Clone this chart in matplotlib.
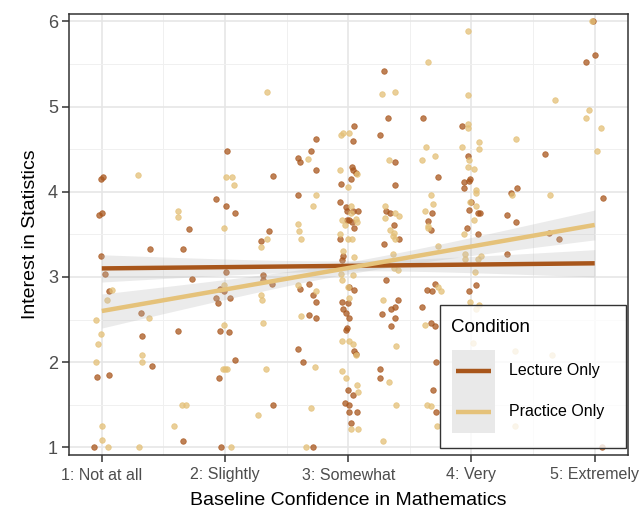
import numpy as np
import matplotlib
matplotlib.use("Agg")
import matplotlib.pyplot as plt
from matplotlib.lines import Line2D
from matplotlib.patches import Rectangle
from matplotlib.legend_handler import HandlerBase

plt.rcParams['font.family'] = ['Liberation Sans', 'DejaVu Sans']

# ---------------- data ----------------
tick_labels = ["1: Not at all", "2: Slightly", "3: Somewhat", "4: Very", "5: Extremely"]
conditions = ["Lecture Only", "Practice Only"]

lecture_x = [0.99, 1.01, 0.98, 1.00, 0.99, 1.03, 1.06, 1.32, 1.33, 1.39, 0.96, 1.06, 1.41, 0.94,
             2.02, 2.39, 1.93, 2.01, 2.08, 1.71, 1.66, 2.36, 2.29, 1.73, 2.01, 2.31, 2.31, 2.38,
             1.96, 1.99, 1.93, 1.94, 2.04, 1.62, 1.96, 2.03, 2.08, 1.95, 2.39, 1.66, 1.97,
             3.29, 3.32, 3.26, 3.05, 3.04, 2.74, 2.70, 2.59, 2.61, 2.74, 3.03, 3.04, 3.06, 2.94,
             3.02, 3.38, 3.38, 2.59, 2.93, 2.98, 2.99, 3.04, 3.08, 3.01, 2.99, 3.03, 3.05, 3.31,
             3.34, 3.37, 3.41, 3.29, 2.93, 2.96, 2.95, 3.61, 3.73, 3.68, 3.65, 3.67, 3.31, 2.68,
             2.61, 2.71, 2.74, 3.01, 3.05, 2.95, 3.00, 2.96, 2.98, 2.68, 2.74, 3.01, 2.98, 2.99,
             3.05, 3.06, 3.40, 3.38, 3.35, 3.27, 3.38, 3.35, 3.60, 3.64, 3.68, 3.70, 3.67, 3.70,
             2.59, 2.63, 3.26, 3.26, 3.00, 3.04, 2.97, 3.01, 3.01, 3.07, 3.02, 3.71, 3.69, 3.71,
             2.71,
             4.99, 4.93, 5.00, 3.92, 3.97, 3.98, 3.99, 3.94, 3.94, 4.60, 4.32, 4.37, 4.00, 3.98,
             4.05, 4.07, 4.29, 4.36, 5.07, 3.96, 4.05, 4.63, 4.71, 4.29, 4.04, 3.98, 5.06]
lecture_y = [4.15, 4.17, 3.73, 3.75, 3.25, 3.04, 2.83, 2.58, 2.31, 3.33, 1.83, 1.85, 1.96, 1.00,
             4.48, 4.19, 3.91, 3.83, 3.75, 3.56, 3.33, 3.54, 3.42, 2.98, 3.06, 3.02, 2.96, 2.92,
             2.86, 2.83, 2.75, 2.69, 2.75, 2.37, 2.37, 2.35, 2.02, 1.81, 1.50, 1.08, 1.00,
             5.42, 4.87, 4.67, 4.77, 4.60, 4.62, 4.48, 4.40, 4.35, 4.25, 4.29, 4.25, 4.22, 4.09,
             4.15, 4.35, 4.08, 3.96, 3.88, 3.82, 3.77, 3.77, 3.77, 3.67, 3.67, 3.64, 3.57, 3.77,
             3.75, 3.61, 3.44, 3.39, 3.44, 3.25, 3.20, 4.87, 4.17, 3.75, 3.66, 3.55, 2.96, 2.92,
             2.86, 2.79, 2.71, 2.88, 2.85, 2.71, 2.69, 2.62, 2.58, 2.55, 2.52, 2.52, 2.38, 2.40,
             2.13, 2.10, 2.73, 2.65, 2.62, 2.56, 2.52, 2.42, 2.65, 2.85, 2.83, 2.92, 2.46, 2.42,
             2.15, 2.00, 1.92, 1.81, 1.67, 1.61, 1.52, 1.50, 1.42, 1.42, 1.29, 2.00, 1.67, 1.42,
             1.00,
             6.00, 5.52, 5.60, 4.77, 4.42, 4.13, 4.15, 4.12, 4.04, 4.44, 3.99, 4.04, 3.88, 3.79,
             3.75, 3.75, 3.73, 3.65, 3.93, 3.58, 3.50, 3.52, 3.44, 3.27, 2.90, 2.83, 1.00]

practice_x = [1.29, 1.04, 1.08, 0.95, 0.99, 0.97, 0.95, 1.38, 1.33, 1.33, 1.00, 1.00, 1.05, 1.30,
              2.34, 2.01, 2.06, 2.07, 1.62, 1.62, 1.99, 2.34, 2.29, 1.99, 2.29, 2.30, 2.31, 1.99,
              1.98, 2.00, 2.02, 2.33, 1.65, 1.68, 2.27, 1.59, 2.05,
              3.65, 3.27, 3.38, 2.94, 2.96, 3.01, 3.63, 3.70, 3.60, 3.33, 2.67, 2.93, 3.00, 3.07,
              2.74, 2.71, 3.02, 3.02, 3.06, 3.07, 2.95, 2.97, 3.30, 3.30, 3.38, 3.41, 3.34, 3.36,
              3.38, 3.37, 3.67, 3.69, 3.62, 3.65, 3.65, 2.59, 2.60, 2.62, 2.93, 3.00, 3.03, 2.96,
              3.05, 3.36, 3.73, 3.37, 3.40, 3.04, 2.94, 2.95, 2.59, 2.74, 3.00, 3.01, 3.28, 3.75,
              3.73, 2.62, 3.62, 2.95, 3.01, 3.04, 3.06, 3.39, 2.73, 2.95, 2.98, 3.07, 3.08, 3.33,
              3.39, 2.70, 3.64, 3.67, 3.02, 3.08, 3.28, 2.66, 3.72,
              4.98, 3.97, 3.97, 4.68, 4.95, 4.93, 5.05, 3.97, 3.97, 4.36, 4.06, 4.06, 3.92, 5.02,
              3.98, 3.97, 4.02, 4.04, 4.04, 4.33, 4.64, 3.99, 4.04, 4.02, 3.94, 4.08, 4.05, 3.95,
              3.95, 4.03, 3.99, 4.04, 4.06, 4.01, 4.35, 4.65, 4.35]
practice_y = [4.20, 2.73, 2.85, 2.50, 2.33, 2.21, 2.00, 2.52, 2.08, 2.00, 1.25, 1.09, 1.00, 1.00,
              5.17, 4.17, 4.17, 4.08, 3.77, 3.70, 3.58, 3.44, 3.35, 2.90, 2.79, 2.73, 2.46, 2.44,
              1.92, 1.92, 1.92, 1.92, 1.50, 1.50, 1.38, 1.25, 1.00,
              5.52, 5.15, 5.17, 4.67, 4.69, 4.69, 4.52, 4.42, 4.37, 4.37, 4.39, 4.25, 4.06, 4.21,
              3.96, 3.83, 3.83, 3.75, 3.68, 3.65, 3.67, 3.61, 3.83, 3.69, 3.75, 3.72, 3.55, 3.48,
              3.44, 3.52, 3.96, 3.86, 3.77, 3.60, 3.57, 3.62, 3.54, 3.44, 3.50, 3.44, 3.44, 3.31,
              3.23, 3.27, 3.36, 3.10, 3.08, 3.02, 3.04, 2.96, 2.90, 2.83, 2.88, 2.75, 2.73, 2.83,
              2.88, 2.54, 2.44, 2.25, 2.25, 2.21, 2.08, 2.19, 1.94, 1.90, 1.81, 1.73, 1.65, 1.77,
              1.50, 1.46, 1.50, 1.48, 1.21, 1.21, 1.08, 1.00, 1.25,
              6.00, 5.89, 5.14, 5.08, 4.96, 4.87, 4.75, 4.79, 4.75, 4.62, 4.58, 4.50, 4.52, 4.48,
              4.37, 4.29, 4.27, 4.02, 3.98, 3.96, 3.96, 3.88, 3.83, 3.67, 3.50, 3.25, 3.21, 3.27,
              3.21, 3.06, 2.71, 2.62, 2.67, 2.22, 2.13, 2.08, 1.25]

# fitted lines (value at x=1 and x=5) and CI half-widths (at x=1, minimum near x=3, at x=5)
fit_x_ends = [1, 5]
lecture_fit = [3.10, 3.16]
practice_fit = [2.60, 3.61]
lecture_ci = [0.16, 0.06, 0.16]
practice_ci = [0.20, 0.07, 0.175]

# ---------------- styling ----------------
dark = "#A9571E"
light = "#E4C077"
line_dark = "#A8561B"
line_light = "#E5C27A"

W, H = 644, 512
fig = plt.figure(figsize=(W/100, H/100), dpi=100)
ax = fig.add_axes([69/W, 1-455/H, (628-69)/W, (455-14)/H])


def band(ends_y, ci, xs):
    a, b = ends_y
    yfit = a + (b - a) * (xs - 1) / 4.0
    hw_left = np.sqrt(ci[1]**2 + (ci[0]**2 - ci[1]**2) * ((xs - 3) / 2)**2)
    hw_right = np.sqrt(ci[1]**2 + (ci[2]**2 - ci[1]**2) * ((xs - 3) / 2)**2)
    hw = np.where(xs < 3, hw_left, hw_right)
    return yfit, hw

ax.scatter(lecture_x, lecture_y, s=16, color=dark, alpha=0.75, edgecolors=dark, linewidths=0.6, zorder=3)
ax.scatter(practice_x, practice_y, s=16, color=light, alpha=0.75, edgecolors=light, linewidths=0.6, zorder=3)

xs = np.linspace(fit_x_ends[0], fit_x_ends[1], 200)
for fit, ci in [(lecture_fit, lecture_ci), (practice_fit, practice_ci)]:
    yf, hw = band(fit, ci, xs)
    ax.fill_between(xs, yf - hw, yf + hw, color="#B8B8B8", alpha=0.28, linewidth=0, zorder=4)
for fit, col in [(lecture_fit, line_dark), (practice_fit, line_light)]:
    ax.plot(fit_x_ends, fit, color=col, lw=3.2, solid_capstyle='butt', zorder=5)

ax.set_xlim(0.734, 5.27)
ax.set_ylim(0.91, 6.086)
ax.set_xticks(range(1, 6))
ax.set_xticklabels(tick_labels)
ax.set_yticks(range(1, 7))
ax.set_xticks(np.arange(1.5, 5, 1), minor=True)
ax.set_yticks(np.arange(1.5, 6, 1), minor=True)
ax.grid(True, which='major', color='#E6E6E6', lw=1.2, zorder=0)
ax.grid(True, which='minor', color='#F0F0F0', lw=0.7, zorder=0)
ax.set_axisbelow(True)
ax.tick_params(which='minor', length=0)
ax.tick_params(axis='x', which='major', length=5, width=1.1, color='#333333', labelsize=11.5,
               labelcolor='#4D4D4D', pad=4)
ax.tick_params(axis='y', which='major', length=5, width=1.1, color='#333333', labelsize=13,
               labelcolor='#4D4D4D', pad=3)
for sp in ax.spines.values():
    sp.set_color('#333333')
    sp.set_linewidth(1.1)

ax.set_xlabel("Baseline Confidence in Mathematics", fontsize=14, labelpad=7)
ax.set_ylabel("Interest in Statistics", fontsize=14, labelpad=6)


class KeyHandler(HandlerBase):
    """ggplot-like key: grey background square with a shorter line on top."""
    def __init__(self, color):
        super().__init__()
        self.color = color

    def create_artists(self, legend, orig_handle, xdescent, ydescent, width, height,
                       fontsize, trans):
        rect = Rectangle((-xdescent, -ydescent), width, height, facecolor='#E9E9E9',
                         edgecolor='none', transform=trans)
        inset = width * 0.1
        yc = -ydescent + height / 2
        line = Line2D([-xdescent + inset, -xdescent + width - inset], [yc, yc],
                      color=self.color, lw=3.2, solid_capstyle='butt', transform=trans)
        return [rect, line]


# legend frame (ggplot-style box, semi-transparent white)
box_l, box_r, box_t, box_b = 440, 626, 305, 448
frame = Rectangle((box_l/W, 1-box_b/H), (box_r-box_l)/W, (box_b-box_t)/H,
                  transform=fig.transFigure, facecolor=(1, 1, 1, 0.8), edgecolor='#333333',
                  linewidth=1.0, zorder=9, clip_on=False)
ax.add_patch(frame)

h1 = Line2D([0], [0], color=line_dark)
h2 = Line2D([0], [0], color=line_light)
leg = ax.legend([h1, h2], conditions,
                handler_map={h1: KeyHandler(line_dark), h2: KeyHandler(line_light)},
                title="Condition", loc='upper left',
                bbox_to_anchor=(box_l/W, 1-(box_t+3)/H), bbox_transform=fig.transFigure,
                fontsize=11.5, title_fontsize=13.5, handlelength=2.75, handleheight=3.58,
                labelspacing=0.0, handletextpad=0.85, borderpad=0.72, borderaxespad=0,
                frameon=False, alignment='left')
leg.set_zorder(10)
leg._legend_box.sep = 10

fig.savefig("out.png", dpi=100)
